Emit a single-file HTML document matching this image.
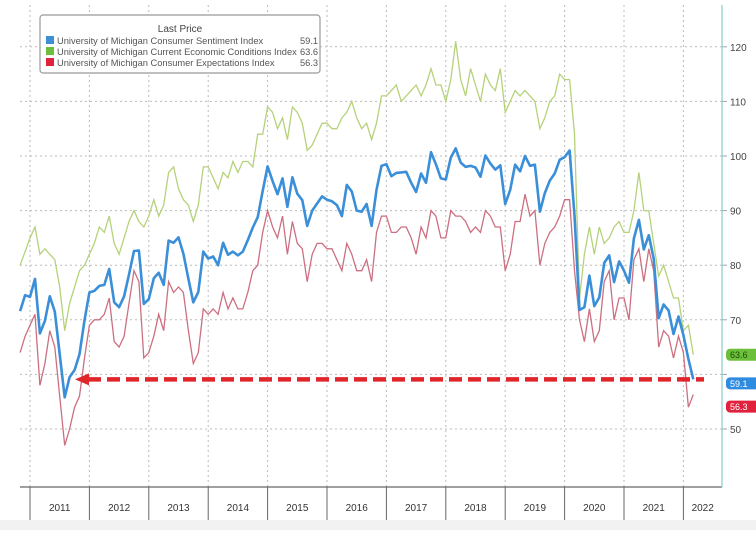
<!DOCTYPE html>
<html><head><meta charset="utf-8"><style>
html,body{margin:0;padding:0;background:#fff;}
body{width:756px;height:530px;overflow:hidden;font-family:"Liberation Sans",sans-serif;}
</style></head><body>
<svg id="chart" width="756" height="530" xmlns="http://www.w3.org/2000/svg" style="font-family:'Liberation Sans',sans-serif">
<rect x="0" y="0" width="756" height="530" fill="#fff"/>
<rect x="0" y="520" width="756" height="10" fill="#f2f2f2"/>
<g id="grid"></g>
<g id="series"></g>
<g id="axes"></g>
<g>
<rect x="40" y="15" width="280" height="58" rx="3" fill="#fff" stroke="#999" stroke-width="1.2"/>
<text x="180" y="32" font-size="10" fill="#444" text-anchor="middle">Last Price</text>
<g><rect x="46" y="36" width="8" height="8" fill="#3d8fd6"/><text x="57" y="44" font-size="9.3" fill="#555">University of Michigan Consumer Sentiment Index</text><text x="300" y="44" font-size="9.3" fill="#555">59.1</text></g>
<g><rect x="46" y="47" width="8" height="8" fill="#6cbf3a"/><text x="57" y="55" font-size="9.3" fill="#555">University of Michigan Current Economic Conditions Index</text><text x="300" y="55" font-size="9.3" fill="#555">63.6</text></g>
<g><rect x="46" y="58" width="8" height="8" fill="#e0223d"/><text x="57" y="66" font-size="9.3" fill="#555">University of Michigan Consumer Expectations Index</text><text x="300" y="66" font-size="9.3" fill="#555">56.3</text></g>
</g>
</svg>
<script>
const years=["2011","2012","2013","2014","2015","2016","2017","2018","2019","2020","2021","2022"];
const yTicks=[50,60,70,80,90,100,110,120];
const yTickLabels=["50","","70","80","90","100","110","120"];
const sentiment=[71.6,74.5,
74.2,77.5,67.5,69.8,74.3,71.5,63.7,55.8,59.5,60.8,63.7,69.9,
75.0,75.3,76.2,76.4,79.3,73.2,72.3,74.3,78.3,82.6,82.7,72.9,
73.8,77.6,78.6,76.4,84.5,84.1,85.1,82.1,77.5,73.2,75.1,82.5,
81.2,81.6,80.0,84.1,81.9,82.5,81.8,82.5,84.6,86.9,88.8,93.6,
98.1,95.4,93.0,95.9,90.7,96.1,93.1,91.9,87.2,90.0,91.3,92.6,
92.0,91.7,91.0,89.0,94.7,93.5,90.0,89.8,91.2,87.2,93.8,98.2,
98.5,96.3,96.9,97.0,97.1,95.1,93.4,96.8,95.1,100.7,98.5,95.9,
95.7,99.7,101.4,98.8,98.0,98.2,97.9,96.2,100.1,98.6,97.5,98.3,
91.2,93.8,98.4,97.2,100.0,98.2,98.4,89.8,93.2,95.5,96.8,99.3,
99.8,101.0,89.1,71.8,72.3,78.1,72.5,74.1,80.4,81.8,76.9,80.7,
79.0,76.8,84.9,88.3,82.9,85.5,81.2,70.3,72.8,71.7,67.4,70.6,
67.2,62.8,59.1];
const current=[80,82.5,
85,87,82,83,82,81,76,68,73,76,79,80,
82,84,87,86,89,84,82,85,88,90,88,87,
89,92,89,91,97,98,94,92,91,88,91,98,
98,96,94,97,96,99,97,99,99,98,104,104,
109,108,105,107,103,109,108,106,101,102,104,106,
106,105,105,107,108,110,107,105,106,103,106,111,
111,112,113,110,111,112,113,111,113,116,113,113,
110,114,121,114,111,116,113,110,115,113,112,116,
108,110,112,111,112,111,110,105,107,110,111,115,
114,114,104,74,82,87,82,87,84,85,87,88,
86,86,90,97,90,90,84,78,80,77,74,74,
68,69,63.6];
const expectations=[64,67,
69,71,58,62,68,65,56,47,50,54,56,63,
69,70,70,71,74,66,65,67,73,79,77,63,
64,67,71,68,77,75,76,75,68,62,64,72,
71,72,71,75,72,74,72,72,75,79,80,86,
90,87,85,89,82,88,84,83,77,82,84,84,
83,83,81,79,84,82,79,79,81,77,86,89,
89,86,86,87,87,85,82,87,85,90,89,85,
85,90,89,89,88,86,87,86,90,89,87,87,
79,82,88,88,93,89,90,80,84,86,87,89,
92,92,79,70,66,72,66,68,77,79,70,74,
74,70,81,83,77,83,79,65,68,67,63,67,
64,54,56.3];
const lastValues=[63.6,59.1,56.3];
const refLevel=59.1;

const NS="http://www.w3.org/2000/svg";
const X0=20.1, DX=4.95, PL=20, PR=722, PT=5, PB=487;
function xM(i){return X0+i*DX;}
function yV(v){return 429-(v-50)*5.46;}
function mk(tag,attrs,parent){const e=document.createElementNS(NS,tag);for(const k in attrs)e.setAttribute(k,attrs[k]);parent.appendChild(e);return e;}
const grid=document.getElementById('grid'),axes=document.getElementById('axes'),ser=document.getElementById('series');

yTicks.forEach((v,k)=>{
  const l=mk('line',{x1:PL,x2:PR,y1:yV(v),y2:yV(v),stroke:'#bbb','stroke-width':1,'stroke-dasharray':'2 3'},grid);
  
  
  const t=mk('line',{x1:PR,x2:PR+5,y1:yV(v),y2:yV(v),stroke:'#8ab',"stroke-width":1},axes);
  
  
  const tx=mk('text',{x:PR+8,y:yV(v)+4,'font-size':10,fill:'#444'},axes);
  tx.textContent=yTickLabels[k];
  
  
});
years.forEach((y,k)=>{
  const xs=xM(2+12*k);
  const g=mk('line',{x1:xs,x2:xs,y1:PT,y2:PB,stroke:'#bbb','stroke-width':1,'stroke-dasharray':'2 3'},grid);
  
  
  const s=mk('line',{x1:xs,x2:xs,y1:PB,y2:520,stroke:'#666','stroke-width':1},axes);
  
  
  const xe=Math.min(xM(2+12*(k+1)),PR);
  const tx=mk('text',{x:(xs+xe)/2,y:511,'font-size':10,fill:'#333','text-anchor':'middle'},axes);
  tx.textContent=y;
  
  
});
const xa=mk('line',{x1:PL,x2:PR,y1:PB,y2:PB,stroke:'#666','stroke-width':1.2},axes);


const ya=mk('line',{x1:PR,x2:PR,y1:PT,y2:PB,stroke:'#8cc','stroke-width':1.2},axes);



function path(arr){return arr.map((v,i)=>(i?'L':'M')+xM(i).toFixed(1)+' '+yV(v).toFixed(1)).join(' ');}
const pc=mk('path',{d:path(current),fill:'none',stroke:'#b5d27a','stroke-width':1.3},ser);


const pe=mk('path',{d:path(expectations),fill:'none',stroke:'#cc6f80','stroke-width':1.3},ser);


const ps=mk('path',{d:path(sentiment),fill:'none',stroke:'#3b8fd8','stroke-width':2.6,'stroke-linejoin':'round'},ser);



const ry=yV(refLevel);
const rl=mk('line',{x1:88,x2:704,y1:ry,y2:ry,stroke:'#e0262a','stroke-width':4.5,'stroke-dasharray':'13 6'},ser);


const ah=mk('polygon',{points:`75,${ry} 89,${ry-6} 89,${ry+6}`,fill:'#e0262a'},ser);



const tagColors=['#6cbf3a','#2f8be0','#e0223d'];
const tagText=['#1d4d0a','#fff','#fff'];
const tagNames=['current-conditions-tag','sentiment-tag','expectations-tag'];
const tagOffsets=[0,4,12];
lastValues.forEach((v,k)=>{
  const ty=yV(v)+tagOffsets[k];
  const r=mk('rect',{x:PR+4,y:ty-6,width:34,height:12,rx:4,fill:tagColors[k]},axes);
  
  
  const t=mk('text',{x:PR+8,y:ty+3.5,'font-size':9,fill:tagText[k]},axes);
  t.textContent=v.toFixed(1);
  
  
});
</script>
</body></html>
